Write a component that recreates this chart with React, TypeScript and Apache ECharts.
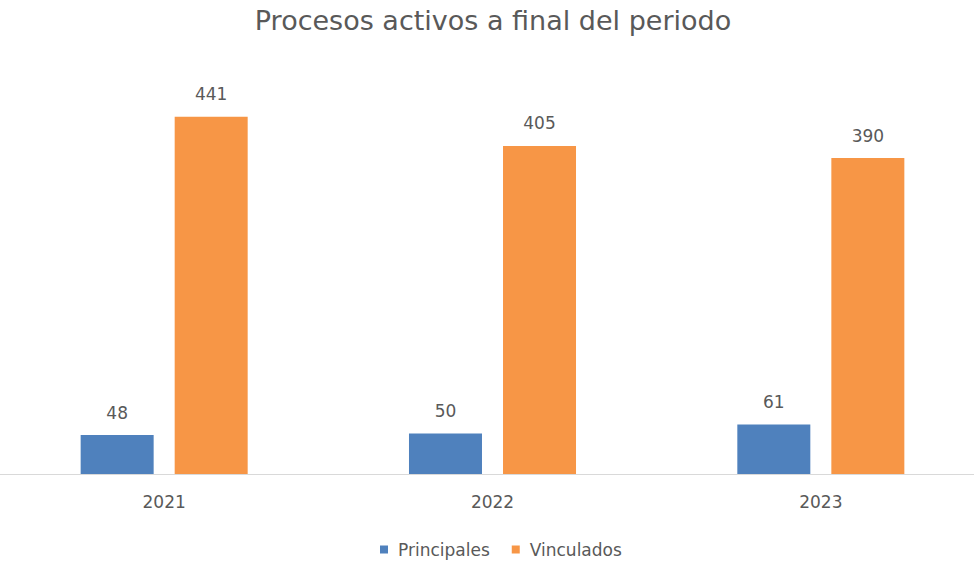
import React, { useEffect, useRef } from "react";
import * as echarts from "echarts";

const categories = ["2021", "2022", "2023"];
const principales = [48, 50, 61];
const vinculados = [441, 405, 390];
const seriesNames = ["Principales", "Vinculados"];
const titleText = "Procesos activos a final del periodo";

const FONT = "'DejaVu Sans', sans-serif";
const TEXT = "#595959";

export default function App() {
  const ref = useRef<HTMLDivElement>(null);
  useEffect(() => {
    if (!ref.current) return;
    const chart = echarts.init(ref.current, undefined, { renderer: "svg" });
    const label = {
      show: true,
      position: "top" as const,
      distance: 14,
      color: TEXT,
      fontSize: 17,
      fontFamily: FONT,
    };
    chart.setOption({
      animation: false,
      backgroundColor: "#ffffff",
      title: {
        text: titleText,
        left: "center",
        top: 2,
        textStyle: { color: TEXT, fontSize: 27, fontWeight: "normal", fontFamily: FONT },
      },
      legend: {
        data: seriesNames,
        top: 536,
        left: 375,
        icon: "rect",
        itemWidth: 8,
        itemHeight: 8,
        itemGap: 22,
        textStyle: { color: TEXT, fontSize: 17, fontFamily: FONT, padding: [0, 0, 0, 5] },
      },
      grid: { left: 0, top: 69, right: 1, bottom: 87, containLabel: false },
      xAxis: {
        type: "category",
        data: categories,
        axisLine: { show: true, lineStyle: { color: "#d9d9d9", width: 1 } },
        axisTick: { show: false },
        axisLabel: { color: TEXT, fontSize: 17, fontFamily: FONT, margin: 19 },
      },
      yAxis: {
        type: "value",
        min: 0,
        max: 500,
        show: false,
        splitLine: { show: false },
      },
      series: [
        {
          name: seriesNames[0],
          type: "bar",
          data: principales,
          barWidth: 73,
          barGap: "28.8%",
          itemStyle: { color: "#4F81BD" },
          label,
        },
        {
          name: seriesNames[1],
          type: "bar",
          data: vinculados,
          barWidth: 73,
          itemStyle: { color: "#F79646" },
          label,
        },
      ],
    });
    return () => chart.dispose();
  }, []);
  return (
    <div
      ref={ref}
      style={{ width: 986, height: 561, position: "fixed", left: 0, top: 0 }}
    />
  );
}
